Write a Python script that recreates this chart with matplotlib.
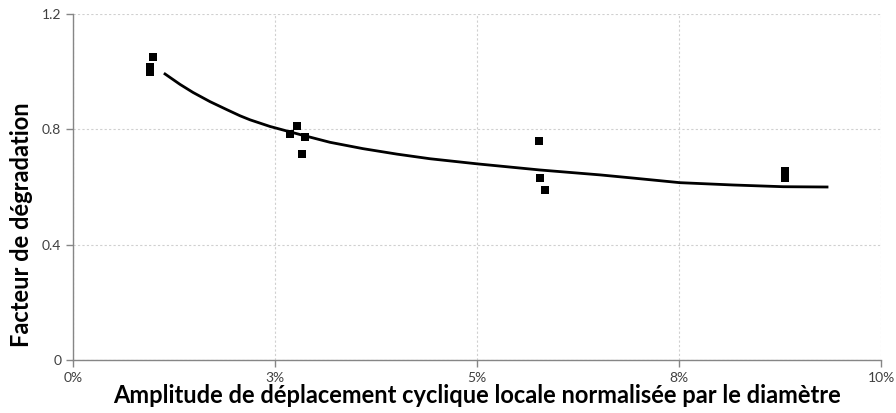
import matplotlib
matplotlib.use("Agg")
import matplotlib.pyplot as plt

plt.rcParams['font.family'] = ['Lato', 'DejaVu Sans']

# Measured points (x in %, y degradation factor)
pts_x = [0.99, 0.953, 0.953, 2.772, 2.686, 2.871, 2.834, 5.767, 5.780, 5.842, 8.81, 8.81]
pts_y = [1.051, 1.016, 0.999, 0.811, 0.784, 0.773, 0.714, 0.760, 0.631, 0.590, 0.655, 0.631]

# Trend curve
curve_x = [1.139, 1.324, 1.485, 1.696, 1.906, 2.067, 2.191, 2.438, 2.649, 2.809, 3.181,
           3.589, 4.010, 4.418, 5.012, 5.78, 6.522, 6.931, 7.512, 8.168, 8.787, 9.332]
curve_y = [0.992, 0.956, 0.928, 0.896, 0.868, 0.847, 0.833, 0.810, 0.794, 0.782, 0.755,
           0.733, 0.714, 0.698, 0.680, 0.659, 0.642, 0.631, 0.615, 0.607, 0.601, 0.600]

x_ticks = [0, 2.5, 5, 7.5, 10]
x_labels = ["0%", "3%", "5%", "8%", "10%"]
y_ticks = [0, 0.4, 0.8, 1.2]
y_labels = ["0", "0.4", "0.8", "1.2"]

fig = plt.figure(figsize=(8.96, 4.13), dpi=100)
ax = fig.add_axes([73/896, 1 - 360/413, (881-73)/896, (360-14)/413])

ax.plot(curve_x, curve_y, color='black', lw=2, zorder=3)
ax.scatter(pts_x, pts_y, marker='s', s=30, color='black', zorder=4, linewidths=0)

ax.set_xlim(0, 10)
ax.set_ylim(0, 1.2)
ax.set_xticks(x_ticks, x_labels)
ax.set_yticks(y_ticks, y_labels)

ax.grid(True, color='#d0d0d0', linestyle=(0, (2, 2)), lw=0.8)
ax.set_axisbelow(True)
for s in ['top', 'right']:
    ax.spines[s].set_visible(False)
for s in ['left', 'bottom']:
    ax.spines[s].set_color('#868686')
    ax.spines[s].set_linewidth(1)
ax.tick_params(axis='both', colors='#868686', length=5, width=1, labelsize=10, labelcolor='#404040')

ax.set_xlabel("Amplitude de déplacement cyclique locale normalisée par le diamètre",
              fontsize=17, fontweight='bold', color='black', labelpad=0)
ax.set_ylabel("Facteur de dégradation", fontsize=17, fontweight='bold', color='black')
ax.yaxis.set_label_coords(-0.0495, 0.39)

fig.savefig("out.png", dpi=100)
